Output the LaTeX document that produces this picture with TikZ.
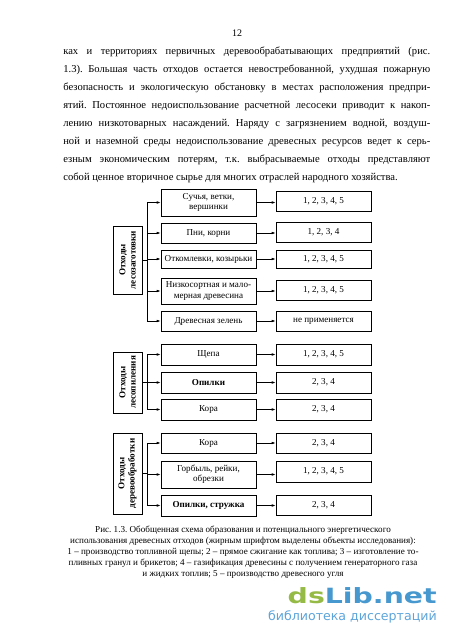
\documentclass[tikz,border=0pt]{standalone}
\usepackage{fontspec}
\setmainfont{Liberation Serif}
\newfontfamily\wmfont[FakeStretch=1.35]{DejaVu Sans}
\newfontfamily\wmsubfont{DejaVu Sans}
\usetikzlibrary{arrows.meta}
\definecolor{dsgreen}{RGB}{150,186,70}
\definecolor{dsblue}{RGB}{70,152,206}
\definecolor{dslight}{RGB}{92,164,218}
\newcommand\bodyfont{\fontsize{10.6}{17.86}\selectfont}
\newcommand\diagfont{\fontsize{9.1}{10.4}\selectfont}
\newcommand\capfont{\fontsize{9.1}{11}\selectfont}
\newcommand\jline[1]{\hbox to\hsize{#1}}
\frenchspacing

\begin{document}
\begin{tikzpicture}[x=1pt, y=-1pt, line width=0.6pt]
    \tikzset{
        wastebox/.style={draw, minimum width=95pt, align=center, font=\diagfont, inner sep=1pt},
        usebox/.style={draw, minimum width=95pt, minimum height=20pt, font=\diagfont, inner sep=1pt},
        groupbox/.style={draw, rotate=90, align=center, font=\diagfont\bfseries, minimum height=29pt, inner sep=1pt},
        feed/.style={-{Latex[length=4pt, width=2.6pt]}},
    }
    \useasboundingbox (0,0) rectangle (450,634);

    % page number and the text above the scheme
    \node[inner sep=0, font=\fontsize{10}{12}\selectfont] (pageno) at (237,33) {12};
    \node[anchor=base west, inner sep=0, font=\bodyfont] (body) at (63,55) {\vtop{\hsize=367pt
        \jline{ках и территориях первичных деревообрабатывающих предприятий (рис.}
        \jline{1.3). Большая часть отходов остается невостребованной, ухудшая пожарную}
        \jline{безопасность и экологическую обстановку в местах расположения предпри-}
        \jline{ятий. Постоянное недоиспользование расчетной лесосеки приводит к накоп-}
        \jline{лению низкотоварных насаждений. Наряду с загрязнением водной, воздуш-}
        \jline{ной и наземной среды недоиспользование древесных ресурсов ведет к серь-}
        \jline{езным экономическим потерям, т.к. выбрасываемые отходы представляют}
        \hbox{собой ценное вторичное сырье для многих отраслей народного хозяйства.}}};

    % logging waste
    \node[groupbox, minimum width=68pt] (lz) at (127.5,260) {Отходы\\лесозаготовки};
    \node[wastebox, minimum height=27pt] (lz1) at (208.5,202.5) {Сучья, ветки,\\вершинки};
    \node[wastebox, minimum height=20pt] (lz2) at (208.5,233) {Пни, корни};
    \node[wastebox, minimum height=18pt] (lz3) at (208.5,259) {Откомлевки, козырьки};
    \node[wastebox, minimum height=26pt] (lz4) at (208.5,291) {Низкосортная и мало-\\мерная древесина};
    \node[wastebox, minimum height=20pt] (lz5) at (208.5,321) {Древесная зелень};
    \node[usebox] (lzu1) at (323.5,201) {1, 2, 3, 4, 5};
    \node[usebox] (lzu2) at (323.5,232) {1, 2, 3, 4};
    \node[usebox, minimum height=18pt] (lzu3) at (323.5,259) {1, 2, 3, 4, 5};
    \node[usebox] (lzu4) at (323.5,290) {1, 2, 3, 4, 5};
    \node[usebox] (lzu5) at (323.5,321) {не применяется};
    \coordinate (lzfork) at (147,260);
    \draw (lz.south) -- (lz.south -| lzfork);
    \draw (lzfork |- lz1) -- (lzfork |- lz5);
    \foreach \i in {1,...,5} {
        \draw[feed] (lzfork |- lz\i) -- (lz\i.west);
        \draw[feed] (lz\i.east) -- (lz\i.east -| lzu\i.west);
    }

    % sawmill waste
    \node[groupbox, minimum width=61pt] (lp) at (127.5,382.5) {Отходы\\лесопиления};
    \node[wastebox, minimum height=21pt] (lp1) at (208.5,354.5) {Щепа};
    \node[wastebox, minimum height=21pt] (lp2) at (208.5,382.5) {\textbf{Опилки}};
    \node[wastebox, minimum height=21pt] (lp3) at (208.5,409.5) {Кора};
    \node[usebox, minimum height=21pt] (lpu1) at (323.5,354.5) {1, 2, 3, 4, 5};
    \node[usebox, minimum height=21pt] (lpu2) at (323.5,382.5) {2, 3, 4};
    \node[usebox, minimum height=21pt] (lpu3) at (323.5,409.5) {2, 3, 4};
    \coordinate (lpfork) at (147,382.5);
    \draw (lp.south) -- (lp.south -| lpfork);
    \draw (lpfork |- lp1) -- (lpfork |- lp3);
    \foreach \i in {1,2,3} {
        \draw[feed] (lpfork |- lp\i) -- (lp\i.west);
        \draw[feed] (lp\i.east) -- (lp\i.east -| lpu\i.west);
    }

    % woodworking waste
    \node[groupbox, minimum width=81pt] (dob) at (127.5,473.5) {Отходы\\деревообработки};
    \node[wastebox, minimum height=20pt] (dob1) at (208.5,443) {Кора};
    \node[wastebox, minimum height=27pt] (dob2) at (208.5,474.5) {Горбыль, рейки,\\обрезки};
    \node[wastebox, minimum height=21pt] (dob3) at (208.5,505.5) {\textbf{Опилки, стружка}};
    \node[usebox] (dobu1) at (323.5,443) {2, 3, 4};
    \node[usebox, minimum height=21pt] (dobu2) at (323.5,471.5) {1, 2, 3, 4, 5};
    \node[usebox] (dobu3) at (323.5,505) {2, 3, 4};
    \coordinate (dobfork) at (147,473.5);
    \draw (dob.south) -- (dob.south -| dobfork);
    \draw (dobfork |- dob1) -- (dobfork |- dob3);
    \foreach \i in {1,2,3} {
        \draw[feed] (dobfork |- dob\i) -- (dob\i.west);
        \draw[feed] (dob\i.east) -- (dob\i.east -| dobu\i.west);
    }

    % caption
    \node[anchor=north, align=center, inner sep=0, font=\capfont] (caption) at (243,526) {%
        Рис. 1.3. Обобщенная схема образования и потенциального энергетического\\
        использования древесных отходов (жирным шрифтом выделены объекты исследования):\\
        1 – производство топливной щепы; 2 – прямое сжигание как топлива; 3 – изготовление то-\\
        пливных гранул и брикетов; 4 – газификация древесины с получением генераторного газа\\
        и жидких топлив; 5 – производство древесного угля};

    % watermark
    \node[anchor=base east, inner sep=0, font=\wmfont\bfseries\fontsize{21}{21}\selectfont] (dslib) at (437,603)
        {\textcolor{dsgreen}{ds}\textcolor{dsblue}{Lib.net}};
    \node[anchor=base east, inner sep=0, text=dslight, font=\wmsubfont\fontsize{12.6}{14}\selectfont] (dslibsub) at (437,620)
        {библиотека диссертаций};
\end{tikzpicture}
\end{document}
